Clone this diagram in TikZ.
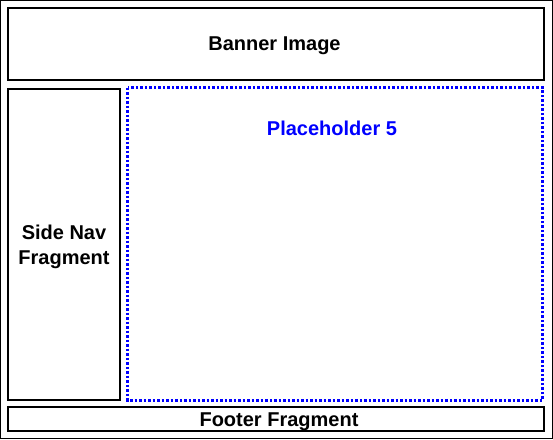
\documentclass[tikz,border=0pt]{standalone}
\usepackage{fontspec}
\setmainfont{Liberation Sans}
\definecolor{phblue}{RGB}{0,0,255}
\begin{document}
\begin{tikzpicture}[x=1pt,y=-1pt,
  boxline/.style={draw=black,line width=2pt},
  dotline/.style={draw=phblue,line width=3pt,dash pattern=on 2.5pt off 2pt},
  lbl/.style={inner sep=0pt,anchor=base,font=\fontsize{20}{25}\selectfont\bfseries}]
\useasboundingbox (0,0) rectangle (553,439);
\draw[line width=1pt] (0.5,0.5) rectangle (552.5,438.5);
\draw[boxline] (8,8) rectangle (543.5,79.5);
\draw[boxline] (8,88.5) rectangle (120,399.5);
\draw[dotline] (127.5,87.5) rectangle (542.5,400);
\draw[boxline] (8,407) rectangle (543.5,431);
\node[lbl] (banner) at (274.5,50.5) {Banner Image};
\node[lbl,text=phblue] (ph) at (332,135.5) {Placeholder 5};
\node[lbl] (side1) at (64,239.5) {Side Nav};
\node[lbl] (side2) at (64,264.5) {Fragment};
\node[lbl] (footer) at (279,426) {Footer Fragment};
\end{tikzpicture}
\end{document}
